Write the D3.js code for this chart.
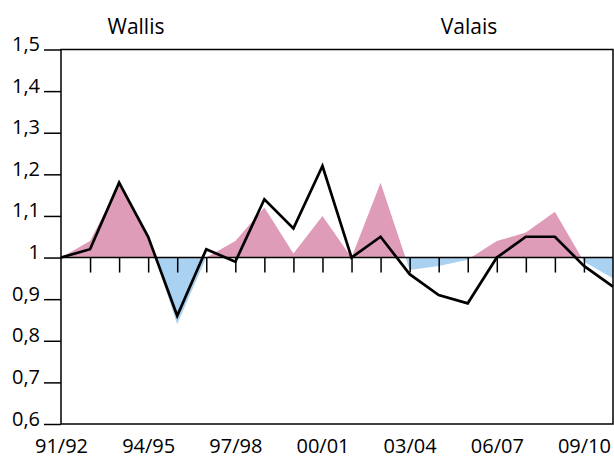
<!DOCTYPE html>
<html><head><meta charset="utf-8">
<script src="https://cdn.jsdelivr.net/npm/d3@7"></script>
<style>body{margin:0;background:#fff}svg{display:block}text{font-family:"Open Sans",sans-serif;fill:#000}</style>
</head><body>
<svg id="c" width="614" height="459"></svg>
<script>
const categories = ["91/92","92/93","93/94","94/95","95/96","96/97","97/98","98/99","99/00","00/01","01/02","02/03","03/04","04/05","05/06","06/07","07/08","08/09","09/10","10/11"];
const wallis = [1.00,1.04,1.175,1.05,0.84,1.00,1.04,1.12,1.01,1.10,1.00,1.18,0.97,0.98,0.995,1.04,1.06,1.11,0.99,0.95];
const valais = [1.00,1.02,1.18,1.05,0.86,1.02,0.99,1.14,1.07,1.22,1.00,1.05,0.96,0.91,0.89,1.00,1.05,1.05,0.98,0.93];
const yTicks = [0.6,0.7,0.8,0.9,1.0,1.1,1.2,1.3,1.4,1.5];
const xTickLabels = ["91/92","94/95","97/98","00/01","03/04","06/07","09/10"];
const titles = ["Wallis","Valais"];

const svg = d3.select("#c");
const L=61,R=613,T=49.5,B=424;
const x = d3.scalePoint().domain(categories).range([L,R]);
const y = d3.scaleLinear().domain([0.6,1.5]).range([B,T]);
const fmt = v => (v===1? "1" : d3.format(".1f")(v).replace(".",","));

const defs = svg.append("defs");
defs.append("clipPath").attr("id","above").append("rect").attr("x",L).attr("y",T).attr("width",R-L).attr("height",y(1)-T);
defs.append("clipPath").attr("id","below").append("rect").attr("x",L).attr("y",y(1)).attr("width",R-L).attr("height",B-y(1));

const area = d3.area().x((d,i)=>x(categories[i])).y0(y(1)).y1(d=>y(d));
svg.append("path").datum(wallis).attr("d",area).attr("fill","#df9cb8").attr("clip-path","url(#above)");
svg.append("path").datum(wallis).attr("d",area).attr("fill","#a9d1f1").attr("clip-path","url(#below)");

// baseline at 1 with ticks
const gb = svg.append("g").attr("transform",`translate(0,${y(1)})`)
  .call(d3.axisBottom(x).tickValues(categories.slice(1,19)).tickSize(15).tickFormat(""));
gb.select(".domain").remove();
gb.selectAll(".tick line").attr("stroke","#000").attr("stroke-width",1.5);
svg.append("line").attr("x1",L).attr("x2",R).attr("y1",y(1)).attr("y2",y(1)).attr("stroke","#000").attr("stroke-width",1.5);

// line
const line = d3.line().x((d,i)=>x(categories[i])).y(d=>y(d));
svg.append("path").datum(valais).attr("d",line).attr("fill","none").attr("stroke","#000").attr("stroke-width",2.7).attr("stroke-linejoin","miter");

// frame
svg.append("path").attr("d",`M${L},${T}H${R}V${B}H${L}Z`).attr("fill","none").attr("stroke","#000").attr("stroke-width",1.5);

// y axis
const gy = svg.append("g").attr("transform",`translate(${L},0)`)
  .call(d3.axisLeft(y).tickValues(yTicks).tickSize(17).tickPadding(4).tickFormat(fmt));
gy.select(".domain").remove();
gy.selectAll(".tick line").attr("stroke","#000").attr("stroke-width",1.5);
gy.selectAll(".tick text").attr("font-size",20).attr("dy","0.05em").style("font-family","'Open Sans',sans-serif");

// x labels
const gx = svg.append("g").attr("transform",`translate(0,${B})`)
  .call(d3.axisBottom(x).tickValues(xTickLabels).tickSize(0).tickPadding(0));
gx.select(".domain").remove();
gx.selectAll(".tick text").attr("font-size",20).attr("y",29).attr("dy",0).style("font-family","'Open Sans',sans-serif");

// titles
svg.selectAll("text.title").data(titles).enter().append("text").attr("class","title")
  .attr("x",(d,i)=>i===0?136:469).attr("y",33.5).attr("text-anchor","middle")
  .attr("font-size",21).text(d=>d);
</script>
</body></html>
